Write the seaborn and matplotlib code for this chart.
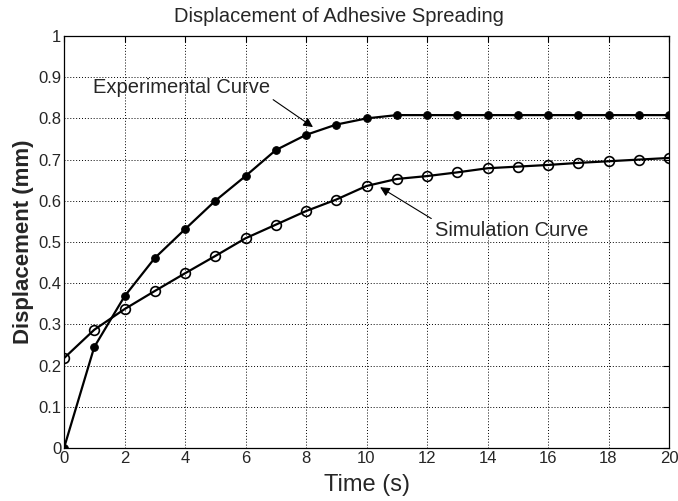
import matplotlib
matplotlib.use("Agg")
import matplotlib.pyplot as plt
import seaborn as sns
import pandas as pd

time_s = list(range(0, 21))
experimental = [0.0, 0.245, 0.368, 0.461, 0.531, 0.600, 0.660, 0.723, 0.760, 0.785, 0.800,
                0.808, 0.808, 0.808, 0.808, 0.808, 0.808, 0.808, 0.808, 0.808, 0.808]
simulation = [0.218, 0.287, 0.337, 0.381, 0.424, 0.466, 0.509, 0.542, 0.575, 0.603, 0.636,
              0.653, 0.660, 0.669, 0.679, 0.683, 0.687, 0.692, 0.696, 0.700, 0.704]
x_ticks = list(range(0, 21, 2))
y_ticks = [0, 0.1, 0.2, 0.3, 0.4, 0.5, 0.6, 0.7, 0.8, 0.9, 1]
y_tick_labels = ["0", "0.1", "0.2", "0.3", "0.4", "0.5", "0.6", "0.7", "0.8", "0.9", "1"]

sns.set_style("white")
plt.rcParams['font.family'] = ['Liberation Sans', 'DejaVu Sans']

df = pd.DataFrame({"t": time_s, "exp": experimental, "sim": simulation})

fig = plt.figure(figsize=(6.78, 5.01), dpi=100)
ax = fig.add_axes([64/678, 1 - 448/501, 605/678, 412/501])

sns.lineplot(data=df, x="t", y="exp", ax=ax, color="black", lw=1.6,
             marker="o", markersize=5.5, markerfacecolor="black", markeredgecolor="black")
sns.lineplot(data=df, x="t", y="sim", ax=ax, color="black", lw=1.6,
             marker="o", markersize=7, markerfacecolor="none", markeredgecolor="black",
             markeredgewidth=1.2)

ax.set_xlim(0, 20)
ax.set_ylim(0, 1)
ax.set_xticks(x_ticks)
ax.set_yticks(y_ticks)
ax.set_yticklabels(y_tick_labels)
ax.tick_params(direction="in", length=4, labelsize=12, color="black", top=True, right=True, pad=2)
ax.grid(True, color="black", linestyle=(0, (1, 2)), linewidth=0.7)
for s in ax.spines.values():
    s.set_color("black")
    s.set_linewidth(0.9)

ax.set_xlabel("Time (s)", fontsize=17, labelpad=6)
ax.set_ylabel("Displacement (mm)", fontsize=16, fontweight="bold", labelpad=3)
fig.text(0.5, 1 - 16/501, "Displacement of Adhesive Spreading", fontsize=14.5,
         ha="center", va="center")

ax.annotate("Experimental Curve", xy=(8.23, 0.779), xytext=(0.95, 0.874),
            fontsize=14.5, ha="left", va="center",
            arrowprops=dict(arrowstyle="-|>", color="black", lw=0.8,
                            shrinkA=0, shrinkB=0, mutation_scale=14,
                            relpos=(1.0, 0.0)))
ax.annotate("Simulation Curve", xy=(10.45, 0.633), xytext=(12.25, 0.529),
            fontsize=14.5, ha="left", va="center",
            arrowprops=dict(arrowstyle="-|>", color="black", lw=0.8,
                            shrinkA=0, shrinkB=0, mutation_scale=14,
                            relpos=(0.0, 1.0)))

fig.savefig("out.png", dpi=100)
